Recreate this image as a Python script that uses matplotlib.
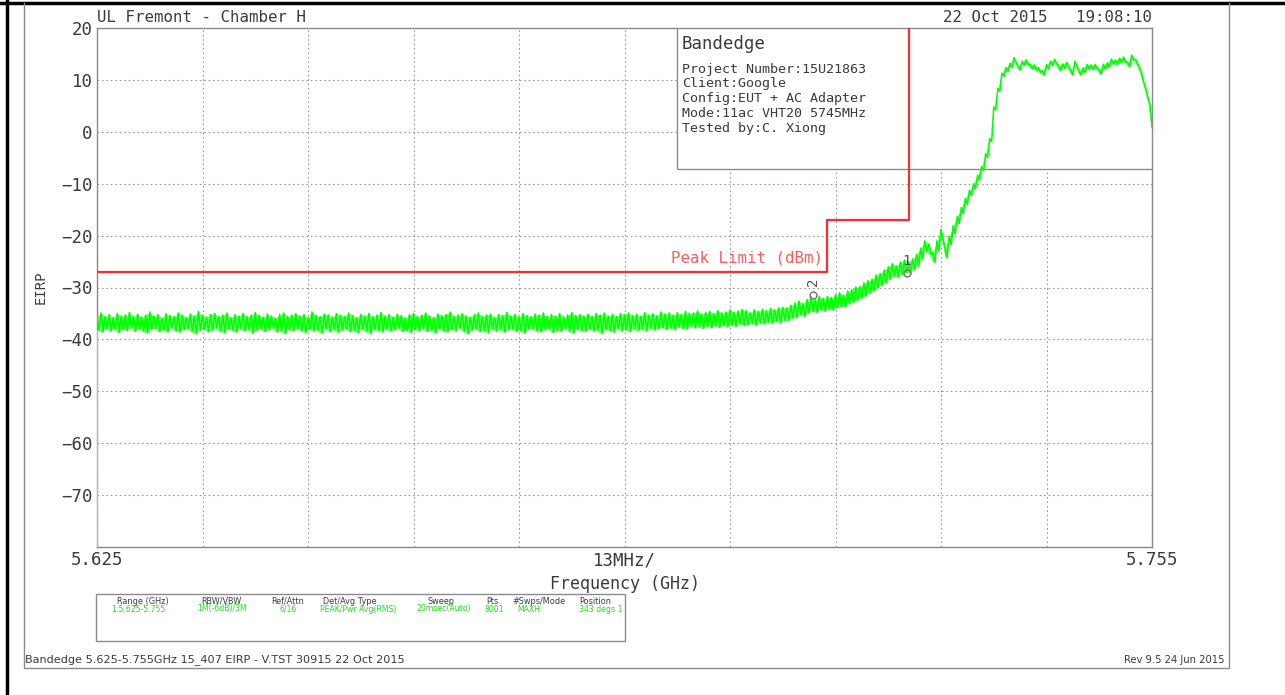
import numpy as np
import matplotlib.pyplot as plt
from matplotlib.lines import Line2D
from matplotlib.patches import Rectangle

# sweep span (GHz) and y scale (dBm)
f_start = 5.625
f_stop = 5.755
y_bottom = -80
y_top = 20

# max-hold trace, upper and lower edge of the noisy band, 261 points across the span
trace_peak = [
    -35.4, -34.9, -35.6, -35.2, -35.8, -35.0, -35.5, -35.3, -34.8, -35.6,
    -35.1, -35.7, -35.3, -34.7, -35.5, -35.2, -35.9, -35.0, -35.4, -35.6,
    -34.9, -35.3, -35.8, -35.1, -35.5, -34.6, -35.4, -35.7, -35.2, -35.0,
    -35.6, -35.3, -34.9, -35.8, -35.2, -35.5, -35.0, -35.6, -35.3, -34.8,
    -35.4, -35.7, -35.1, -35.5, -35.9, -35.2, -34.9, -35.6, -35.3, -35.0,
    -35.5, -35.2, -35.8, -34.7, -35.4, -35.6, -35.1, -35.3, -35.7, -35.0,
    -35.3, -35.6, -34.9, -35.4, -35.8, -35.2, -35.5, -35.0, -35.6, -35.3,
    -34.8, -35.5, -35.2, -35.7, -35.1, -35.4, -35.9, -35.2, -35.0, -35.6,
    -35.3, -34.9, -35.5, -35.8, -35.1, -35.4, -35.2, -34.7, -35.6, -35.3,
    -35.0, -35.5, -35.7, -35.2, -34.9, -35.6, -35.3, -35.1, -35.8, -35.2,
    -35.4, -34.8, -35.5, -35.2, -35.7, -35.0, -35.4, -35.6, -35.1, -35.3,
    -34.9, -35.6, -35.2, -35.5, -35.0, -35.7, -35.3, -34.8, -35.4, -35.2,
    -35.5, -35.1, -35.6, -35.0, -35.3, -34.9, -35.5, -35.2, -35.6, -35.0,
    -35.2, -34.9, -35.4, -35.1, -35.5, -34.8, -35.3, -35.0, -35.4, -34.7,
    -35.1, -34.9, -35.3, -34.8, -35.2, -34.6, -35.0, -34.9, -34.5, -35.1,
    -34.8, -34.6, -35.0, -34.4, -34.9, -34.7, -34.3, -34.8, -34.5, -34.2,
    -34.5, -34.9, -34.3, -34.6, -34.2, -34.5, -34.0, -34.3, -33.9, -33.8,
    -33.9, -33.4, -33.0, -32.6, -33.1, -32.3, -31.8, -32.4, -31.7, -32.1,
    -31.7, -31.9, -31.4, -31.0, -31.5, -30.7, -30.4, -29.9, -29.8, -29.1,
    -28.7, -28.4, -27.6, -27.3, -26.6, -26.0, -25.4, -25.8, -25.1, -24.7,
    -25.0, -24.5, -23.6, -22.4, -21.0, -21.6, -23.3, -21.0, -18.8, -22.4,
    -20.1, -18.1, -16.3, -14.6, -12.8, -11.3, -10.0, -8.4, -6.7, -4.2,
    -1.3, 4.8, 8.4, 11.3, 12.4, 13.2, 14.3, 12.7, 13.6, 13.9,
    13.0, 12.9, 12.4, 11.8, 13.0, 13.6, 14.0, 12.8, 13.1, 13.4,
    11.9, 13.6, 11.8, 12.3, 13.0, 12.9, 13.0, 12.0, 13.0, 13.3,
    14.0, 13.8, 14.2, 14.4, 13.4, 14.8, 13.9, 12.3, 9.5, 6.6, 0.9,
]
trace_floor = [
    -38.2, -38.6, -37.9, -38.4, -38.0, -38.7, -38.1, -38.3, -37.8, -38.5,
    -38.0, -38.4, -38.8, -38.1, -37.9, -38.5, -38.2, -38.6, -37.8, -38.3,
    -38.6, -38.1, -37.9, -38.4, -38.9, -38.2, -38.0, -38.5, -38.3, -37.8,
    -38.4, -38.7, -38.0, -38.2, -38.6, -37.9, -38.4, -38.1, -38.8, -38.3,
    -38.0, -38.5, -38.2, -37.8, -38.6, -38.3, -38.9, -38.1, -38.4, -37.9,
    -38.3, -38.7, -38.0, -38.4, -38.2, -38.8, -37.9, -38.5, -38.1, -38.6,
    -38.2, -37.9, -38.5, -38.3, -38.7, -38.0, -38.4, -38.9, -38.1, -38.3,
    -38.6, -38.0, -38.4, -38.2, -37.8, -38.5, -38.3, -38.7, -38.1, -38.4,
    -37.9, -38.5, -38.2, -38.8, -38.0, -38.4, -38.6, -38.1, -38.3, -37.8,
    -38.4, -38.9, -38.2, -38.0, -38.5, -38.3, -38.7, -37.9, -38.4, -38.1,
    -38.6, -38.2, -38.0, -38.5, -38.3, -38.8, -38.1, -37.9, -38.4, -38.6,
    -38.2, -38.0, -38.7, -38.3, -38.5, -37.9, -38.4, -38.8, -38.1, -38.3,
    -38.5, -38.0, -38.4, -38.2, -38.9, -38.1, -38.3, -38.6, -37.9, -38.4,
    -38.1, -38.5, -37.9, -38.3, -38.0, -38.4, -37.8, -38.2, -38.0, -37.7,
    -38.1, -37.8, -38.2, -37.6, -37.9, -38.0, -37.5, -37.8, -37.6, -37.9,
    -37.5, -37.8, -37.4, -37.7, -37.3, -37.6, -37.2, -37.5, -37.0, -37.3,
    -37.2, -36.9, -37.3, -36.8, -37.0, -36.7, -36.9, -36.5, -36.8, -36.3,
    -36.4, -35.9, -35.8, -35.3, -35.6, -34.9, -34.6, -34.8, -34.3, -34.6,
    -34.2, -34.4, -33.9, -33.7, -33.8, -33.2, -32.9, -32.5, -32.1, -31.7,
    -31.1, -30.7, -30.1, -29.6, -29.1, -28.4, -27.8, -28.0, -27.5, -27.1,
    -27.2, -26.6, -25.9, -24.6, -23.0, -23.6, -25.2, -23.0, -20.5, -24.3,
    -21.8, -19.7, -17.7, -15.8, -14.0, -12.3, -11.0, -9.4, -7.5, -5.0,
    -1.9, 4.2, 7.8, 10.7, 11.6, 12.4, 13.4, 11.9, 12.8, 13.0,
    12.2, 11.9, 11.5, 10.9, 12.1, 12.8, 13.1, 11.8, 12.2, 12.5,
    10.9, 12.7, 10.9, 11.4, 12.1, 12.0, 12.2, 11.1, 12.1, 12.4,
    13.1, 12.9, 13.3, 13.5, 12.5, 13.9, 13.0, 11.2, 8.3, 5.4, -0.1,
]

# peak limit (dBm) as steps: level holds from each edge to the next
limit_edges = [5.625, 5.715, 5.725, 5.725]
limit_levels = [-27, -17, 27]

# markers
marker_freq = [5.7248, 5.7132]
marker_level = [-27.2, -31.4]
marker_names = ['1', '2']

yticks = [20, 10, 0, -10, -20, -30, -40, -50, -60, -70, -80]
ytick_labels = ['20', '10', '0', '−10', '−20', '−30', '−40', '−50', '−60', '−70', '']
xtick_labels = ['5.625', '', '', '', '', '13MHz/', '', '', '', '', '5.755']

box_title = 'Bandedge'
box_lines = ['Project Number:15U21863', 'Client:Google', 'Config:EUT + AC Adapter',
             'Mode:11ac VHT20 5745MHz', 'Tested by:C. Xiong']

table_heads = ['Range (GHz)', 'RBW/VBW', 'Ref/Attn', 'Det/Avg Type', 'Sweep', 'Pts',
               '#Swps/Mode', 'Position']
table_vals = ['1:5.625-5.755', '1M(-6dB)/3M', '6/16', 'PEAK/Pwr Avg(RMS)', '20msec(Auto)',
              '8001', 'MAXH', '343 degs 1']

W, H = 1285, 695
mono = 'DejaVu Sans Mono'
ink = '#3a3a3a'

fig = plt.figure(figsize=(W / 100, H / 100), dpi=100)
ax = fig.add_axes([97 / W, 1 - 547 / H, 1055 / W, 519 / H])

freq = np.linspace(f_start, f_stop, len(trace_peak))
peak = np.array(trace_peak)
floor = np.array(trace_floor)
half = (freq[1] - freq[0]) / 2

# max-hold look: zigzag from each peak sample down to its floor sample
zx = np.empty(2 * len(freq) - 1)
zy = np.empty_like(zx)
zx[0::2] = freq
zy[0::2] = peak
zx[1::2] = freq[:-1] + half
zy[1::2] = floor[:-1]
ax.fill_between(freq, floor, peak, color='#00ff00', alpha=0.55, lw=0, zorder=4)
ax.plot(zx, zy, color='#00ff00', lw=1.1, zorder=4)
ax.vlines(freq[0], y_bottom, floor[0], color='#8cf08c', lw=1.2, zorder=5)

# limit line
lx, ly = [], []
for k, lev in enumerate(limit_levels):
    lx += [limit_edges[k], limit_edges[k + 1]]
    ly += [lev, lev]
ax.plot(lx, ly, color='#ff2a2a', lw=1.6, zorder=5)
ax.text(5.7145, -24.3, 'Peak Limit (dBm)', color='#ff5a5a', family=mono, fontsize=11.3,
        ha='right', va='center', zorder=6)

# markers
for f, v, n in zip(marker_freq, marker_level, marker_names):
    ax.plot(f, v, 'o', ms=5, mfc='none', mec='#707070', mew=1, zorder=6)
    ax.text(f, v + 2.4, n, color='#505050', family=mono, fontsize=10,
            ha='center', va='center', rotation=90 if n == '2' else 0, zorder=6)

ax.set_xlim(f_start, f_stop)
ax.set_ylim(y_bottom, y_top)
ax.set_xticks(np.linspace(f_start, f_stop, len(xtick_labels)))
ax.set_xticklabels(xtick_labels, family=mono, fontsize=12.5, color=ink)
ax.set_yticks(yticks)
ax.set_yticklabels(ytick_labels, family=mono, fontsize=12.5, color=ink)
ax.tick_params(length=0, pad=3)
ax.grid(True, ls=(0, (1.5, 2.5)), color='#9a9a9a', lw=0.8)
for s in ax.spines.values():
    s.set_color('#8a8a8a')
    s.set_linewidth(1)
ax.set_xlabel('Frequency (GHz)', family=mono, fontsize=12, color=ink, labelpad=4)
ax.set_ylabel('EIRP', family=mono, fontsize=10, color=ink)
ax.yaxis.set_label_coords(-49 / 1055, 0.5)

# info box
box = Rectangle((580 / 1055, (547 - 169) / 519), 475 / 1055, 141 / 519, transform=ax.transAxes,
                facecolor='white', edgecolor='#8a8a8a', lw=1, zorder=3)
ax.add_patch(box)
ax.text(585 / 1055, (547 - 44) / 519, box_title, transform=ax.transAxes, family=mono,
        fontsize=12.5, color=ink, va='center', zorder=6)
for k, line in enumerate(box_lines):
    ax.text(585 / 1055, (547 - 69 - 14.8 * k) / 519, line, transform=ax.transAxes,
            family=mono, fontsize=9.6, color=ink, va='center', zorder=6)

fig.text(97 / W, 1 - 18 / H, 'UL Fremont - Chamber H', family=mono, fontsize=11.3,
         color=ink, va='center')
fig.text(1152 / W, 1 - 18 / H, '22 Oct 2015   19:08:10', family=mono, fontsize=11.3,
         color=ink, va='center', ha='right')

# page frame
def fline(xs, ys, **kw):
    fig.add_artist(Line2D([x / W for x in xs], [1 - y / H for y in ys],
                          transform=fig.transFigure, **kw))

fline([0, W], [3, 3], color='black', lw=2.5)
fline([7, 7], [0, H], color='black', lw=2.5)
fline([24, 24, 1229, 1229], [3, 668, 668, 3], color='#8a8a8a', lw=1)

# settings table
fig.add_artist(Rectangle((96 / W, 1 - 641 / H), 529 / W, 47 / H, transform=fig.transFigure,
                         fill=False, edgecolor='#8a8a8a', lw=1))
head_x = [143, 221, 288, 350, 441, 492, 539, 595]
val_x = [138, 222, 288, 358, 444, 494, 529, 601]
for hx, vx, h, v in zip(head_x, val_x, table_heads, table_vals):
    fig.text(hx / W, 1 - 601 / H, h, fontsize=5.9, color=ink, ha='center', va='center')
    fig.text(vx / W, 1 - 609 / H, v, fontsize=5.6, color='#22dd22', ha='center', va='center')

fig.text(25 / W, 1 - 660 / H, 'Bandedge 5.625-5.755GHz 15_407 EIRP - V.TST 30915 22 Oct 2015',
         fontsize=8.1, color=ink, va='center')
fig.text(1225 / W, 1 - 660 / H, 'Rev 9.5 24 Jun 2015', fontsize=7.2, color=ink,
         va='center', ha='right')

fig.savefig('out.png', dpi=100, facecolor='white')
